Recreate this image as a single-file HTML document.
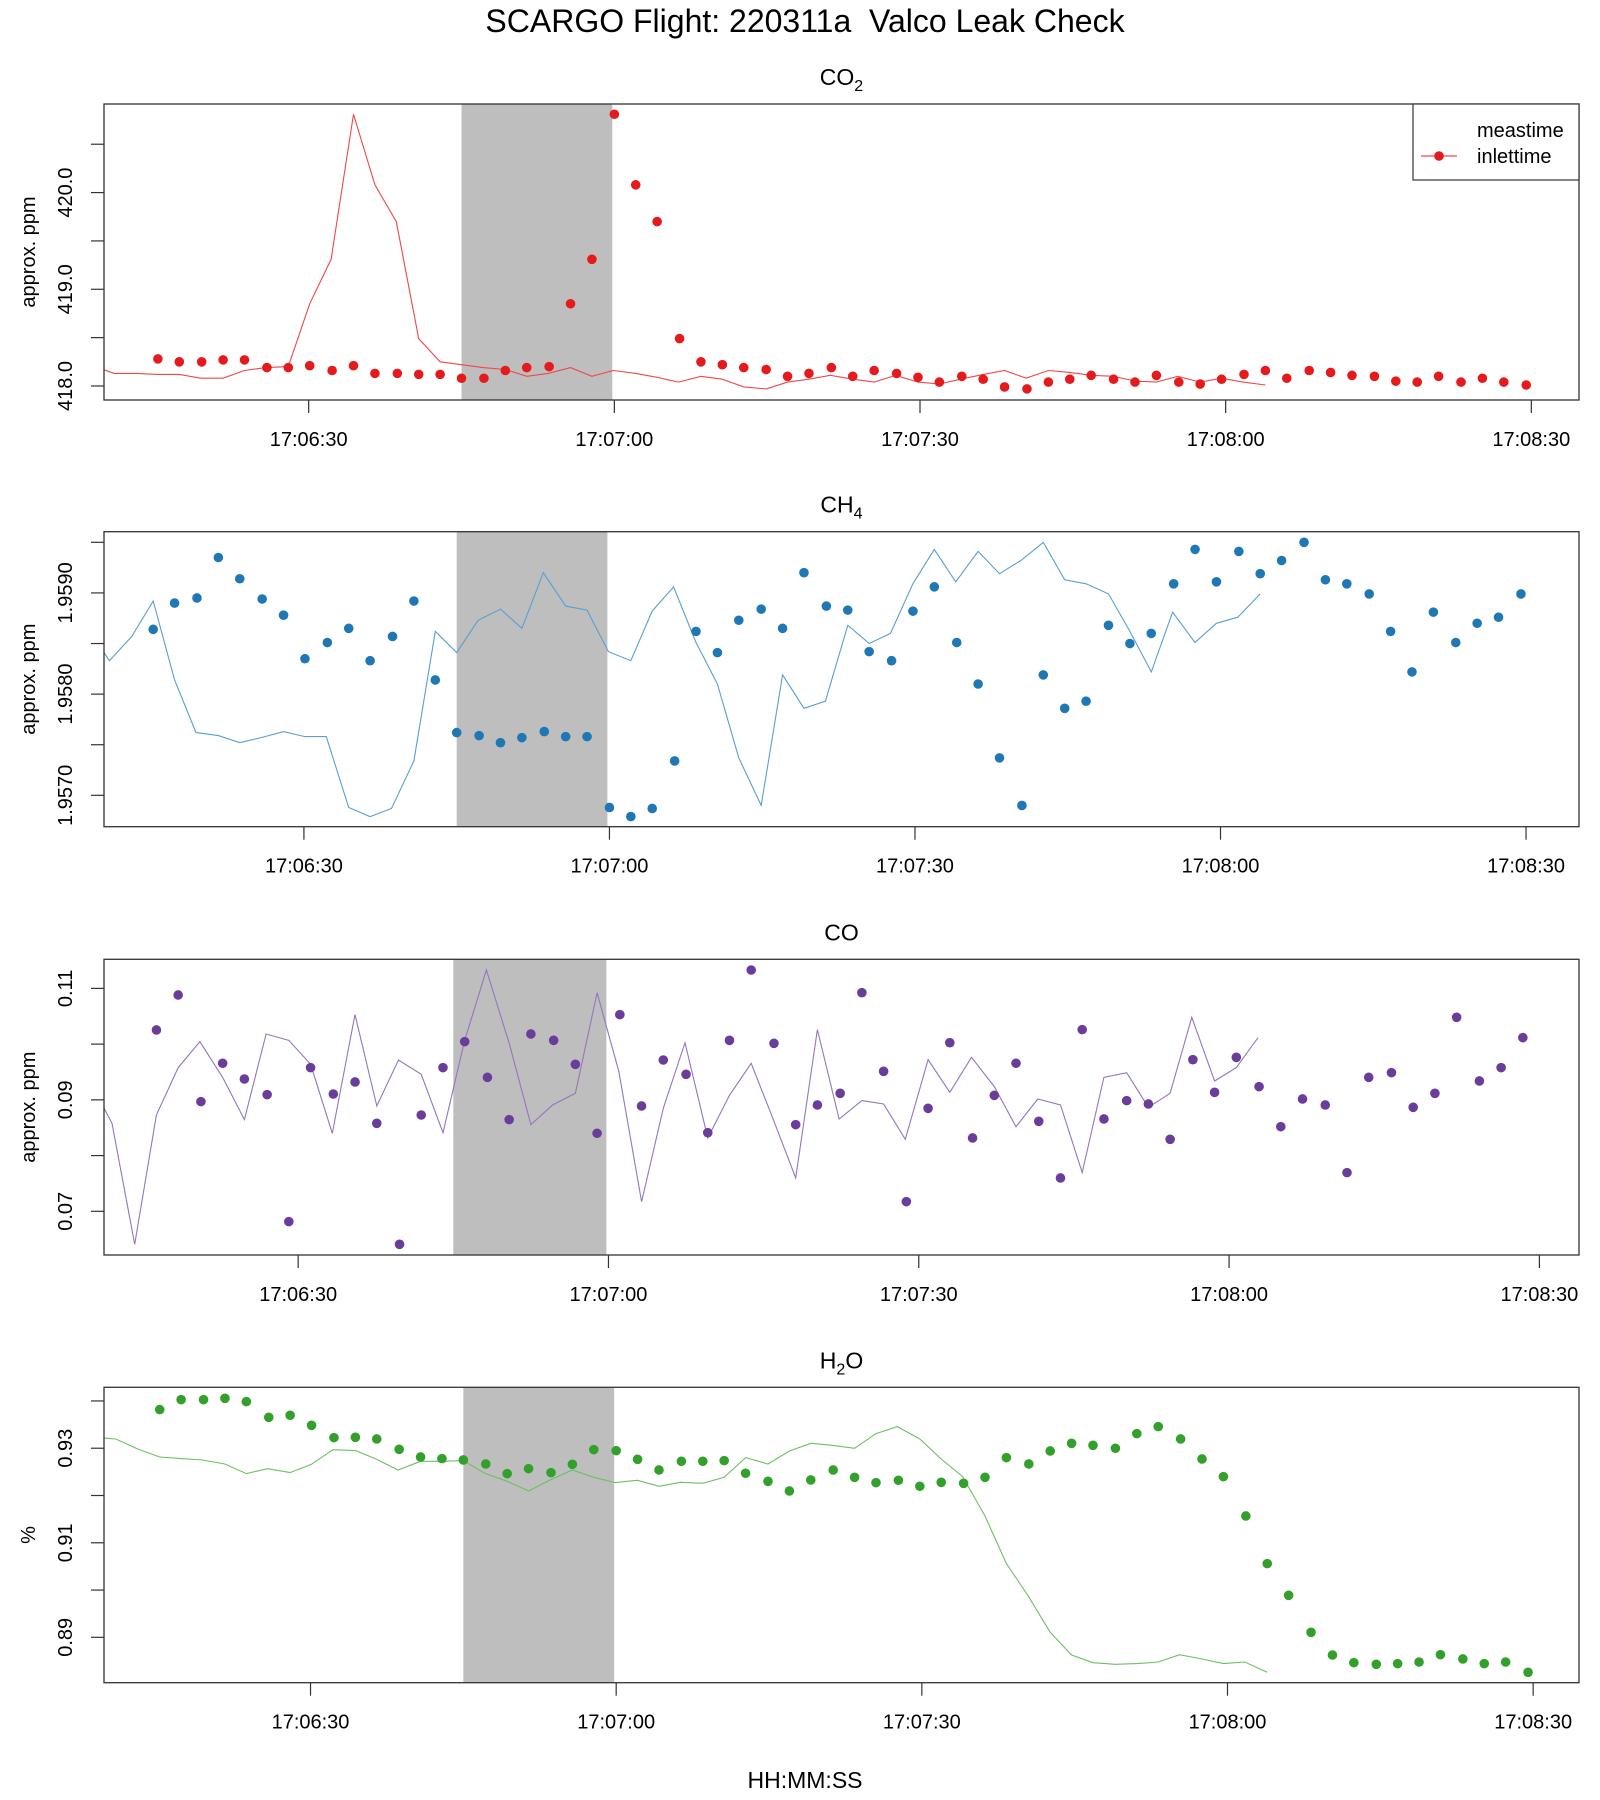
<!DOCTYPE html>
<html><head><meta charset="utf-8"><title>SCARGO Flight 220311a Valco Leak Check</title>
<style>html,body{margin:0;padding:0;background:#fff;}svg{display:block;font-family:"Liberation Sans",Arial,sans-serif;}</style>
</head><body>
<svg id="chart" width="1600" height="1800" viewBox="0 0 1600 1800" xmlns="http://www.w3.org/2000/svg">
<text x="805" y="32" font-size="32" text-anchor="middle" fill="#000">SCARGO Flight: 220311a&#160; Valco Leak Check</text>
<text x="805" y="1788" font-size="23" text-anchor="middle" fill="#000">HH:MM:SS</text>
</svg>
<script>
// seconds after 17:06:00 (inlettime)
const times = [15.2,17.3,19.5,21.6,23.7,25.9,28.0,30.1,32.3,34.4,36.5,38.7,40.8,42.9,45.0,47.2,49.3,51.4,53.6,55.7,57.8,60.0,62.1,64.2,66.4,68.5,70.6,72.7,74.9,77.0,79.1,81.3,83.4,85.5,87.7,89.8,91.9,94.1,96.2,98.3,100.5,102.6,104.7,106.8,109.0,111.1,113.2,115.4,117.5,119.6,121.8,123.9,126.0,128.2,130.3,132.4,134.6,136.7,138.8,140.9,143.1,145.2,147.3,149.5];
const co2Vals = [418.28,418.25,418.25,418.27,418.27,418.19,418.19,418.21,418.16,418.21,418.13,418.13,418.12,418.12,418.08,418.08,418.16,418.19,418.20,418.85,419.31,420.81,420.08,419.70,418.49,418.25,418.22,418.19,418.17,418.10,418.13,418.19,418.10,418.16,418.13,418.09,418.04,418.10,418.07,417.99,417.97,418.04,418.07,418.11,418.07,418.04,418.11,418.04,418.02,418.07,418.12,418.16,418.08,418.16,418.14,418.11,418.10,418.05,418.04,418.10,418.04,418.08,418.04,418.01];
const ch4Vals = [1.95864,1.95890,1.95895,1.95935,1.95914,1.95894,1.95878,1.95835,1.95851,1.95865,1.95833,1.95857,1.95892,1.95814,1.95762,1.95759,1.95752,1.95757,1.95763,1.95758,1.95758,1.95688,1.95679,1.95687,1.95734,1.95862,1.95841,1.95873,1.95884,1.95865,1.95920,1.95887,1.95883,1.95842,1.95833,1.95882,1.95906,1.95851,1.95810,1.95737,1.95690,1.95819,1.95786,1.95793,1.95868,1.95850,1.95860,1.95909,1.95943,1.95911,1.95941,1.95919,1.95932,1.95950,1.95913,1.95909,1.95899,1.95862,1.95822,1.95881,1.95851,1.95870,1.95876,1.95899];
const coVals = [0.10254,0.10882,0.08968,0.09656,0.09374,0.09093,0.06815,0.09578,0.09105,0.09321,0.08579,0.06408,0.08728,0.09578,0.10044,0.09404,0.08645,0.10182,0.10068,0.09638,0.08400,0.10529,0.08890,0.09715,0.09458,0.08411,0.10068,0.11330,0.10014,0.08555,0.08908,0.09117,0.10923,0.09512,0.07173,0.08848,0.10026,0.08316,0.09081,0.09656,0.08615,0.07598,0.10260,0.08657,0.08986,0.08926,0.08292,0.09721,0.09135,0.09763,0.09237,0.08519,0.09016,0.08908,0.07694,0.09404,0.09488,0.08866,0.09117,0.10481,0.09339,0.09578,0.10116];
const h2oVals = [0.93817,0.94028,0.94028,0.94056,0.93986,0.93654,0.93697,0.93485,0.93224,0.93231,0.93196,0.92977,0.92815,0.92780,0.92752,0.92667,0.92463,0.92568,0.92484,0.92660,0.92970,0.92949,0.92766,0.92540,0.92724,0.92724,0.92738,0.92470,0.92300,0.92096,0.92329,0.92540,0.92385,0.92272,0.92322,0.92195,0.92279,0.92258,0.92385,0.92801,0.92667,0.92942,0.93104,0.93062,0.92999,0.93309,0.93457,0.93196,0.92773,0.92399,0.91567,0.90559,0.89889,0.89106,0.88626,0.88464,0.88429,0.88443,0.88478,0.88633,0.88542,0.88443,0.88478,0.88260];
const lagSec = 25.6;
const coTimeOffset = 1.1;
const shadeStart = 45.0;
const shadeEnd = 59.8;
const xTickSecs = [30,60,90,120,150];
const xTickLabels = ["17:06:30","17:07:00","17:07:30","17:08:00","17:08:30"];
const co2Ticks = [418.0,418.5,419.0,419.5,420.0,420.5];
const co2TickLabels = ["418.0","","419.0","","420.0",""];
const ch4Ticks = [1.9570,1.9575,1.9580,1.9585,1.9590,1.9595];
const ch4TickLabels = ["1.9570","","1.9580","","1.9590",""];
const coTicks = [0.07,0.08,0.09,0.10,0.11];
const coTickLabels = ["0.07","","0.09","","0.11"];
const h2oTicks = [0.89,0.90,0.91,0.92,0.93,0.94];
const h2oTickLabels = ["0.89","","0.91","","0.93",""];

const NS = "http://www.w3.org/2000/svg";
const svg = document.getElementById('chart');
function mk(tag, attrs, parent){
  const e = document.createElementNS(NS, tag);
  for (const k in attrs) e.setAttribute(k, attrs[k]);
  (parent||svg).appendChild(e);
  return e;
}

const panels = [
  {key:'co2', title:'CO', sub:'2', ylab:'approx. ppm', top:104, bottom:400, t0:9.91, t1:154.68, y0:417.855, y1:420.916,
   vals:co2Vals, tOff:0, ticks:co2Ticks, tickLabels:co2TickLabels, pt:'#E41A1C', ln:'#F0484A', legend:true},
  {key:'ch4', title:'CH', sub:'4', ylab:'approx. ppm', top:531.7, bottom:826.7, t0:10.37, t1:155.2, y0:1.95669, y1:1.959605,
   vals:ch4Vals, tOff:0, ticks:ch4Ticks, tickLabels:ch4TickLabels, pt:'#1F78B4', ln:'#5A9FD0'},
  {key:'co', title:'CO', sub:'', ylab:'approx. ppm', top:959.3, bottom:1255, t0:11.23, t1:153.83, y0:0.06216, y1:0.11522,
   vals:coVals, tOff:coTimeOffset, ticks:coTicks, tickLabels:coTickLabels, pt:'#6A3D9A', ln:'#9575BF'},
  {key:'h2o', title:'H', sub:'2', post:'O', ylab:'%', top:1387.3, bottom:1682.7, t0:9.73, t1:154.5, y0:0.88040, y1:0.94289,
   vals:h2oVals, tOff:0, ticks:h2oTicks, tickLabels:h2oTickLabels, pt:'#33A02C', ln:'#6CC062'}
];
const L = 104, R = 1579;

panels.forEach(p => {
  const g = mk('g', {});
  
  
  const xs = t => L + (t - p.t0) / (p.t1 - p.t0) * (R - L);
  const ys = v => p.bottom - (v - p.y0) / (p.y1 - p.y0) * (p.bottom - p.top);
  const clipId = 'clip-' + p.key;
  const cp = mk('clipPath', {id: clipId}, g);
  mk('rect', {x:L, y:p.top, width:R-L, height:p.bottom-p.top}, cp);

  const sh = mk('rect', {x:xs(shadeStart), y:p.top, width:xs(shadeEnd)-xs(shadeStart), height:p.bottom-p.top, fill:'#BEBEBE'}, g);
  
  

  const pts = p.vals.map((v,i) => xs(times[i] + p.tOff - lagSec).toFixed(1) + ',' + ys(v).toFixed(1)).join(' ');
  const pl = mk('polyline', {points:pts, fill:'none', stroke:p.ln, 'stroke-width':1.1, 'clip-path':'url(#'+clipId+')'}, g);
  
  

  p.vals.forEach((v,i) => {
    const c = mk('circle', {cx:xs(times[i] + p.tOff), cy:ys(v), r:4.8, fill:p.pt, 'clip-path':'url(#'+clipId+')'}, g);
    
    
  });

  const bx = mk('rect', {x:L, y:p.top, width:R-L, height:p.bottom-p.top, fill:'none', stroke:'#333', 'stroke-width':1.3}, g);
  
  

  xTickSecs.forEach((s,i) => {
    const x = xs(s);
    const tk = mk('line', {x1:x, x2:x, y1:p.bottom, y2:p.bottom+13, stroke:'#333', 'stroke-width':1.2}, g);
    
    
    const tx = mk('text', {x:x, y:p.bottom+46, 'font-size':20, 'text-anchor':'middle', fill:'#000'}, g);
    tx.textContent = xTickLabels[i];
    
    
  });

  p.ticks.forEach((v,i) => {
    const y = ys(v);
    const tk = mk('line', {x1:91, x2:L, y1:y, y2:y, stroke:'#333', 'stroke-width':1.2}, g);
    
    
    if (p.tickLabels[i]) {
      const tx = mk('text', {x:0, y:0, 'font-size':20, 'text-anchor':'middle', fill:'#000', transform:'translate(72,'+y.toFixed(1)+') rotate(-90)'}, g);
      tx.textContent = p.tickLabels[i];
      
      
    }
  });
  const yl = mk('text', {x:0, y:0, 'font-size':20, 'text-anchor':'middle', fill:'#000', transform:'translate(35,'+((p.top+p.bottom)/2).toFixed(1)+') rotate(-90)'}, g);
  yl.textContent = p.ylab;
  
  

  const tt = mk('text', {x:(L+R)/2, y:p.top-19, 'font-size':23, 'text-anchor':'middle', fill:'#000'}, g);
  
  
  const t1 = mk('tspan', {}, tt); t1.textContent = p.title;
  if (p.sub) { const t2 = mk('tspan', {'font-size':16, dy:6}, tt); t2.textContent = p.sub; }
  if (p.post) { const t3 = mk('tspan', {dy:-6}, tt); t3.textContent = p.post; }

  if (p.legend) {
    const lg = mk('g', {}, g);
    
    
    mk('rect', {x:1413, y:104, width:166, height:76, fill:'#fff', stroke:'#333', 'stroke-width':1.2}, lg);
    const e1 = mk('text', {x:1477, y:137, 'font-size':20, fill:'#000'}, lg);
    e1.textContent = 'meastime';
    
    
    mk('line', {x1:1421, x2:1457, y1:156, y2:156, stroke:p.ln, 'stroke-width':1.2}, lg);
    mk('circle', {cx:1439, cy:156, r:4.8, fill:p.pt}, lg);
    const e2 = mk('text', {x:1477, y:163, 'font-size':20, fill:'#000'}, lg);
    e2.textContent = 'inlettime';
    
    
  }
});
</script>
</body></html>
